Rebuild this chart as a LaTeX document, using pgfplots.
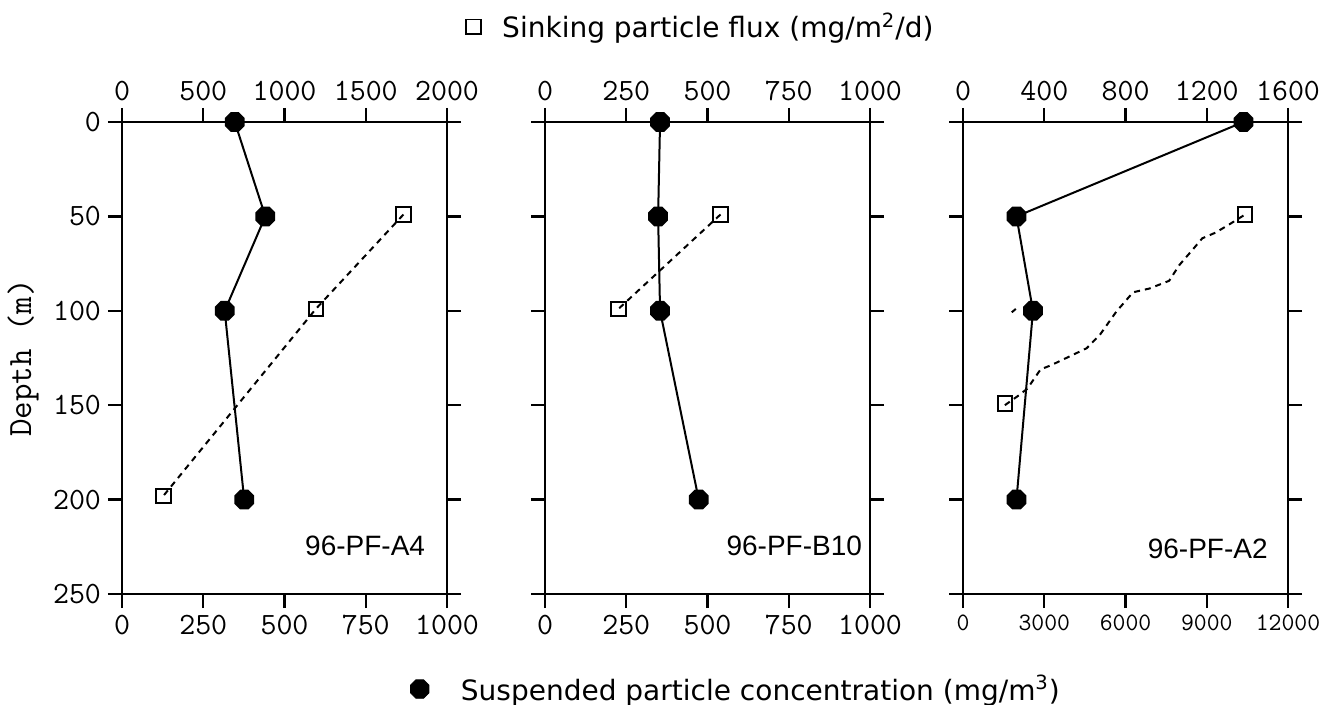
\documentclass[border=0pt]{standalone}
\usepackage{pgfplots}
\pgfplotsset{compat=1.18}
\usepackage{fontspec}
\setmainfont{Liberation Sans}
\newfontfamily\legfont{DejaVu Sans}
\pgfdeclareplotmark{oct}{%
  \pgfpathmoveto{\pgfpointpolar{22.5}{\pgfplotmarksize}}%
  \pgfpathlineto{\pgfpointpolar{67.5}{\pgfplotmarksize}}%
  \pgfpathlineto{\pgfpointpolar{112.5}{\pgfplotmarksize}}%
  \pgfpathlineto{\pgfpointpolar{157.5}{\pgfplotmarksize}}%
  \pgfpathlineto{\pgfpointpolar{202.5}{\pgfplotmarksize}}%
  \pgfpathlineto{\pgfpointpolar{247.5}{\pgfplotmarksize}}%
  \pgfpathlineto{\pgfpointpolar{292.5}{\pgfplotmarksize}}%
  \pgfpathlineto{\pgfpointpolar{337.5}{\pgfplotmarksize}}%
  \pgfpathclose\pgfusepathqfillstroke}
\begin{document}
\begin{tikzpicture}
\tikzset{plabel/.style={font=\fontsize{14}{14}\selectfont}}
\pgfplotsset{
  base/.style={
    scale only axis, width=162.5pt, height=236pt,
    ymin=0, ymax=250, y dir=reverse,
    ytick={0,50,...,250},
    tick align=outside,
    major tick length=7pt,
    axis line style={line width=1.2pt},
    every tick/.style={line width=1.2pt, black},
    /pgf/number format/assume math mode=true,
    /pgf/number format/1000 sep={},
    scaled x ticks=false,
    ticklabel style={font=\fontsize{15.5}{15.5}\selectfont\ttfamily},
    clip=false,
  },
  bot/.style={base, xtick pos=bottom, xticklabel pos=bottom, ytick pos=both},
  top/.style={base, axis x line*=top, hide y axis, xticklabel pos=top},
  susp/.style={black, line width=1pt, mark=oct, mark size=4.8pt, mark options={solid, fill=black}},
  flux/.style={black, line width=1pt, dash pattern=on 3pt off 2.5pt, mark=square, mark size=3.6pt, mark options={solid, fill=white, line width=1pt}},
  mylegend/.style={draw=none, fill=none, inner sep=0pt, outer sep=0pt,
    nodes={inner sep=0pt}, font=\fontsize{14}{14}\selectfont\legfont,
    legend cell align=left},
}
\useasboundingbox (0,0) rectangle (665.5pt,352.5pt);

% ---------- Panel 1 : 96-PF-A4 ----------
\begin{axis}[bot, at={(61pt,55.5pt)}, anchor=south west,
  xmin=0, xmax=1000, xtick={0,250,...,1000},
  ylabel={Depth (m)},
  ylabel style={font=\fontsize{17}{17}\selectfont\ttfamily, at={(axis description cs:-0.3046,0.5)}, anchor=center},
  yticklabel pos=left]
\addplot[susp] coordinates {(347,0) (441,50) (316,100) (376,200)};
\node[plabel] at (axis description cs:0.748,0.102) {96-PF-A4};
\end{axis}
\begin{axis}[top, at={(61pt,55.5pt)}, anchor=south west,
  xmin=0, xmax=2000, xtick={0,500,...,2000}]
\addplot[flux] coordinates {(1732,49) (1193,99) (255,198)};
\end{axis}

% ---------- Panel 2 : 96-PF-B10 ----------
\begin{axis}[bot, at={(272.5pt,55.5pt)}, anchor=south west,
  xmin=0, xmax=1000, xtick={0,250,...,1000}, yticklabels={},
  legend style={mylegend, at={(axis description cs:-0.414,-0.2013)}, anchor=west,
    /tikz/every odd column/.style={column sep=16pt}},
  legend image code/.code={\draw[#1] plot coordinates {(0pt,0pt)};}]
\addlegendimage{only marks, mark=oct, mark size=5pt, mark options={fill=black}}
\addlegendentry{Suspended particle concentration (mg/m\textsuperscript{3})}
\addplot[susp] coordinates {(354,0) (348,50) (354,100) (473,200)};
\node[plabel] at (axis description cs:0.767,0.102) {96-PF-B10};
\end{axis}
\begin{axis}[top, at={(272.5pt,55.5pt)}, anchor=south west,
  xmin=0, xmax=1000, xtick={0,250,...,1000},
  legend style={mylegend, at={(axis description cs:-0.2436,1.2013)}, anchor=west,
    /tikz/every odd column/.style={column sep=10.8pt}},
  legend image code/.code={\draw[#1] plot coordinates {(0pt,0pt)};}]
\addlegendimage{only marks, mark=square, mark size=3.7pt, mark options={line width=0.9pt}}
\addlegendentry{Sinking particle flux (mg/m\textsuperscript{2}/d)}
\addplot[flux] coordinates {(540,49) (226,99)};
\end{axis}

% ---------- Panel 3 : 96-PF-A2 ----------
\begin{axis}[bot, at={(481.5pt,55.5pt)}, anchor=south west,
  xmin=0, xmax=12000, xtick={0,3000,...,12000}, yticklabels={},
  xticklabel style={font=\fontsize{12.5}{12.5}\selectfont\ttfamily}]
\addplot[susp] coordinates {(10355,0) (1974,50) (2583,100) (1974,200)};
\node[plabel] at (axis description cs:0.753,0.095) {96-PF-A2};
\end{axis}
\begin{axis}[top, at={(481.5pt,55.5pt)}, anchor=south west,
  xmin=0, xmax=1600, xtick={0,400,...,1600}]
\addplot[black, line width=1pt, dash pattern=on 3pt off 2.5pt] coordinates {
 (206,150) (268,145.3) (317,141.2) (382,131) (430,129) (528,124) (609,119.8)
 (674,112.7) (755,100.4) (837,90.2) (918,88.2) (1015,84.1) (1064,75.9)
 (1129,67.8) (1178,61.6) (1243,58.6) (1307,54.5) (1389,49)};
\addplot[black, line width=1pt, dash pattern=on 3pt off 2.5pt] coordinates {(240,100.8) (260,99)};
\addplot[only marks, mark=square, mark size=3.6pt, mark options={fill=white, line width=1pt}]
 coordinates {(1389,49) (206,149)};
\end{axis}
\end{tikzpicture}
\end{document}
